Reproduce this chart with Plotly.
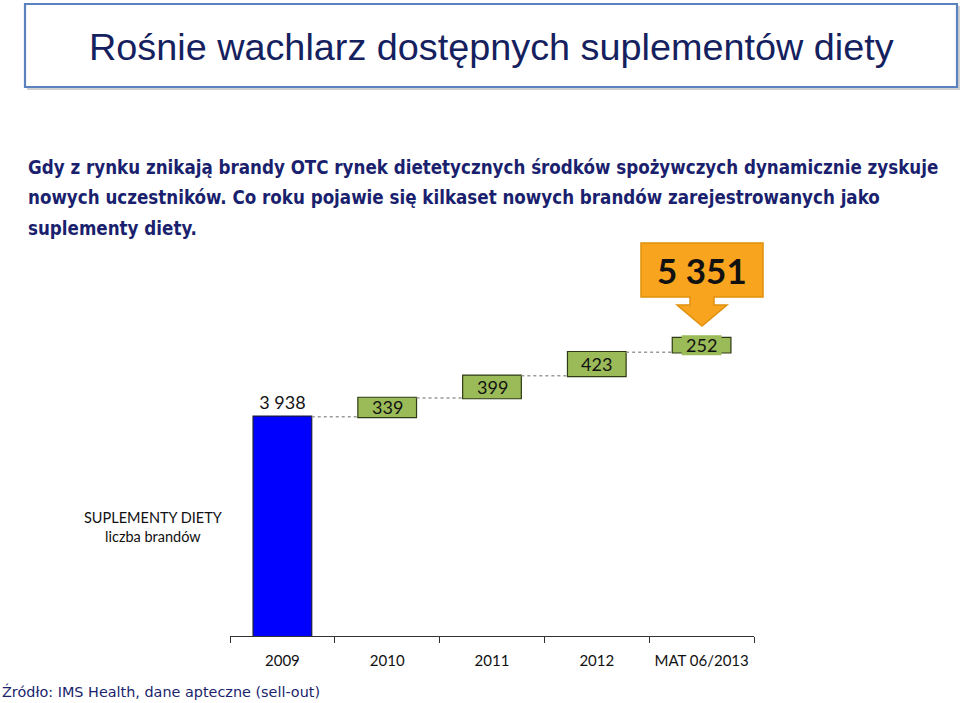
import plotly.graph_objects as go

# ---- data ----
categories = ["2009", "2010", "2011", "2012", "MAT 06/2013"]
values = [3938, 339, 399, 423, 252]
measures = ["absolute", "relative", "relative", "relative", "relative"]
total_label = "5 351"

title_text = "Rośnie wachlarz dostępnych suplementów diety"
sub_lines = [
    "Gdy z rynku znikają brandy OTC rynek dietetycznych środków spożywczych dynamicznie zyskuje",
    "nowych uczestników. Co roku pojawie się kilkaset nowych brandów zarejestrowanych jako",
    "suplementy diety.",
]
source_text = "Źródło: IMS Health, dane apteczne (sell-out)"
axis_title = "SUPLEMENTY DIETY<br>liczba brandów"

# ---- layout geometry (pixels) ----
W, H = 960, 703
L, R, T, B = 230, 206, 240, 67
PW, PH = W - L - R, H - T - B
YMAX = 7116


def px(x):
    return (x - L) / PW


def py(y):
    return (H - B - y) / PH


def fmt(v):
    return f"{v:,}".replace(",", " ")


LABEL_FONT = dict(family="Lato, Open Sans, sans-serif", size=18, color="#111111")
GREEN = "#9BBB59"

texts = [fmt(values[0])] + [""] * (len(values) - 1)
textpos = ["outside"] + ["none"] * (len(values) - 1)

fig = go.Figure(go.Waterfall(
    x=categories,
    y=values,
    measure=measures,
    text=texts,
    textposition=textpos,
    constraintext="none",
    width=0.56,
    textfont=LABEL_FONT,
    outsidetextfont=LABEL_FONT,
    increasing=dict(marker=dict(color=GREEN, line=dict(color="#2E3A14", width=1.2))),
    totals=dict(marker=dict(color="#0000FF", line=dict(color="#1A1A40", width=1.2))),
    decreasing=dict(marker=dict(color="#C0504D")),
    connector=dict(line=dict(color="#9A9A9A", width=1.5, dash="dot"), mode="between"),
    hoverinfo="skip",
    cliponaxis=False,
))

fig.update_layout(
    width=W, height=H,
    margin=dict(l=L, r=R, t=T, b=B),
    paper_bgcolor="white", plot_bgcolor="white",
    showlegend=False,
    xaxis=dict(
        type="category",
        automargin=False,
        tickangle=0,
        showline=True, linecolor="#333333", linewidth=1.2,
        ticks="outside", tickson="boundaries", ticklen=6, tickcolor="#333333", tickwidth=1.2,
        ticklabelstandoff=11,
        tickfont=dict(family="Lato, Open Sans, sans-serif", size=15, color="#111111"),
        showgrid=False, zeroline=False,
        range=[-0.5, len(categories) - 0.5],
    ),
    yaxis=dict(visible=False, automargin=False, range=[0, YMAX], showgrid=False, zeroline=False),
)

shapes = []
# title box shadow + box
shapes.append(dict(type="rect", xref="paper", yref="paper",
                   x0=px(27), x1=px(960), y0=py(6), y1=py(90),
                   fillcolor="#D0D0D0", line=dict(width=0), layer="below"))
shapes.append(dict(type="rect", xref="paper", yref="paper",
                   x0=px(25), x1=px(957), y0=py(4), y1=py(87),
                   fillcolor="white", line=dict(color="#5A82BE", width=2.2), layer="below"))

# last increment drawn as a "bracket" box: green band covering the middle of the top/bottom edges
last_i = len(values) - 1
last_top = sum(values)
last_bottom = last_top - values[-1]
shapes.append(dict(type="rect", xref="x", yref="y",
                   x0=last_i - 0.19, x1=last_i + 0.19,
                   y0=last_bottom - 55, y1=last_top + 55,
                   fillcolor=GREEN, line=dict(width=0), layer="above"))

# callout: orange box with down arrow
cx = 702
path = (f"M {px(641)},{py(243)} L {px(763)},{py(243)} L {px(763)},{py(297)} "
        f"L {px(714)},{py(297)} L {px(714)},{py(305)} L {px(727)},{py(305)} "
        f"L {px(cx)},{py(326)} L {px(677)},{py(305)} L {px(690)},{py(305)} "
        f"L {px(690)},{py(297)} L {px(641)},{py(297)} Z")
shapes.append(dict(type="path", xref="paper", yref="paper", path=path,
                   fillcolor="#F9A41E", line=dict(color="#E0900A", width=1.5)))
fig.update_layout(shapes=shapes)

anns = []
# labels inside the increment boxes (centred on each box, from the data)
running = values[0]
for i, v in enumerate(values[1:], start=1):
    anns.append(dict(text=fmt(v), xref="x", yref="y", x=i, y=running + v / 2,
                     xanchor="center", yanchor="middle", showarrow=False, font=LABEL_FONT))
    running += v

anns.append(dict(text=title_text, xref="paper", yref="paper", x=px(491), y=py(47),
                 xanchor="center", yanchor="middle", showarrow=False,
                 font=dict(family="Liberation Sans Narrow, Arial Narrow, sans-serif", size=37.8, color="#14215E")))
for i, line in enumerate(sub_lines):
    anns.append(dict(text=f"<b>{line}</b>", xref="paper", yref="paper", x=px(26), y=py(167 + 30.5 * i),
                     xanchor="left", yanchor="middle", showarrow=False,
                     font=dict(family="DejaVu Sans Condensed, DejaVu Sans, sans-serif", size=18.6, color="#1A1F6E")))
anns.append(dict(text=source_text, xref="paper", yref="paper", x=px(0), y=py(691),
                 xanchor="left", yanchor="middle", showarrow=False,
                 font=dict(family="DejaVu Sans, Verdana, sans-serif", size=14.4, color="#1A1F6E")))
anns.append(dict(text=axis_title, xref="paper", yref="paper", x=px(153), y=py(527),
                 xanchor="center", yanchor="middle", showarrow=False, align="center",
                 font=dict(family="Lato, Open Sans, sans-serif", size=14.5, color="#111111")))
anns.append(dict(text=f"<b>{total_label}</b>", xref="paper", yref="paper", x=px(cx), y=py(270),
                 xanchor="center", yanchor="middle", showarrow=False,
                 font=dict(family="Lato, Open Sans, sans-serif", size=35, color="#111111")))
fig.update_layout(annotations=anns)

fig.write_html("out.html")
